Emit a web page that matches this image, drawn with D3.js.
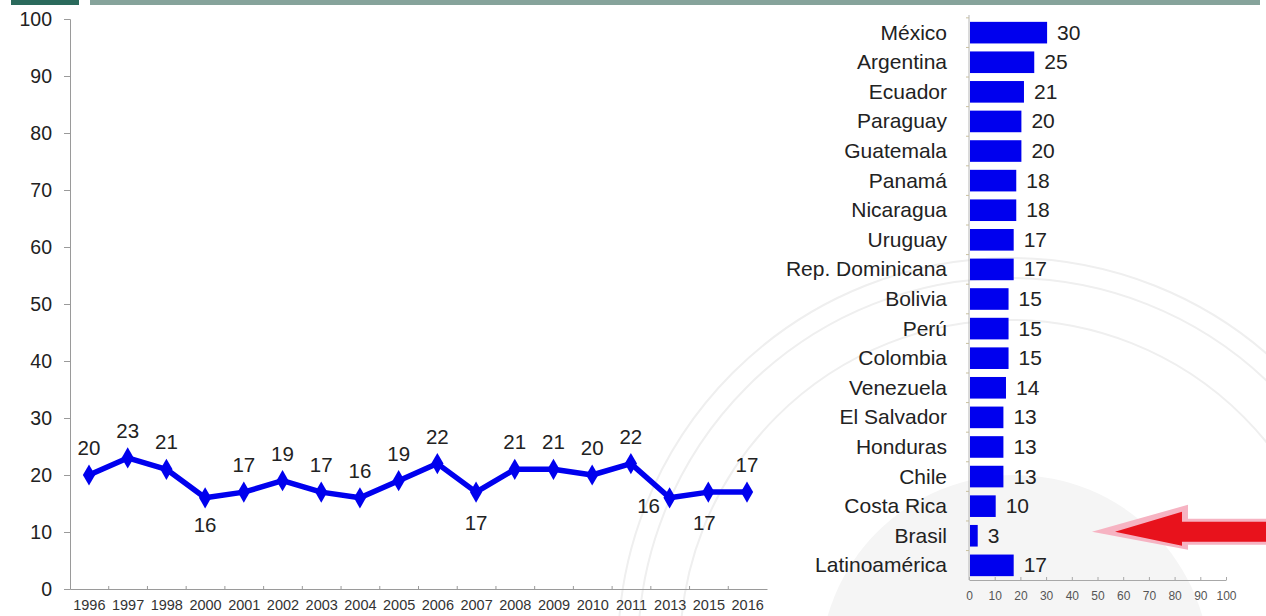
<!DOCTYPE html>
<html>
<head>
<meta charset="utf-8">
<script src="https://cdn.jsdelivr.net/npm/d3@7"></script>
<style>
  html, body { margin: 0; padding: 0; background: #fff; }
  svg { display: block; font-family: "Liberation Sans", Arial, sans-serif; }
</style>
</head>
<body>
<svg id="chart" width="1266" height="616"></svg>
<script>
// ---- data ----
var years = ["1996", "1997", "1998", "2000", "2001", "2002", "2003", "2004", "2005",
  "2006", "2007", "2008", "2009", "2010", "2011", "2013", "2015", "2016"];
var yearValues = [20, 23, 21, 16, 17, 19, 17, 16, 19, 22, 17, 21, 21, 20, 22, 16, 17, 17];
var yTickValues = [0, 10, 20, 30, 40, 50, 60, 70, 80, 90, 100];

var countries = ["México", "Argentina", "Ecuador", "Paraguay", "Guatemala", "Panamá",
  "Nicaragua", "Uruguay", "Rep. Dominicana", "Bolivia", "Perú", "Colombia", "Venezuela",
  "El Salvador", "Honduras", "Chile", "Costa Rica", "Brasil", "Latinoamérica"];
var countryValues = [30, 25, 21, 20, 20, 18, 18, 17, 17, 15, 15, 15, 14, 13, 13, 13, 10, 3, 17];
var barTickValues = [0, 10, 20, 30, 40, 50, 60, 70, 80, 90, 100];

var svg = d3.select("#chart");
var textColor = "#222";
var blue = "#0000ee";

// faint seal watermark in the background
var seal = svg.append("g").attr("fill", "none");
seal.append("circle").attr("cx", 1015).attr("cy", 670).attr("r", 195)
  .attr("fill", "#f5f5f5").attr("stroke", "none");
[392, 372, 330].forEach(function(r) {
  seal.append("circle").attr("cx", 1010).attr("cy", 650).attr("r", r)
    .attr("stroke", "#efefef").attr("stroke-width", 2);
});

// header strip
svg.append("rect").attr("x", 11).attr("y", 0).attr("width", 68).attr("height", 5).attr("fill", "#2b6a5c");
svg.append("rect").attr("x", 90).attr("y", 0).attr("width", 1170).attr("height", 5).attr("fill", "#86a39b");

// ---- left: line chart ----
var x = d3.scalePoint().domain(years).range([89, 747]);
var xBand = d3.scaleBand().domain(years).range([70, 767]);
var y = d3.scaleLinear().domain([0, 100]).range([589, 19]);

var yAxis = svg.append("g").attr("transform", "translate(70,0)")
  .call(d3.axisLeft(y).tickValues(yTickValues).tickSize(6).tickPadding(12));
yAxis.select(".domain").attr("stroke", "#9a9a9a");
yAxis.selectAll(".tick line").attr("stroke", "#9a9a9a");
yAxis.selectAll(".tick text").attr("fill", textColor).attr("font-size", 19.5)
  .attr("font-family", "Liberation Sans, Arial, sans-serif");

var xAxis = svg.append("g").attr("transform", "translate(0,589)")
  .call(d3.axisBottom(xBand).tickSize(0).tickPadding(11).tickSizeOuter(0));
xAxis.select(".domain").attr("stroke", "#9a9a9a");
xAxis.selectAll(".tick text").attr("fill", "#333").attr("font-size", 14.5)
  .attr("font-family", "Liberation Sans, Arial, sans-serif");
xAxis.selectAll(".sep").data(years.slice(1)).enter().append("line")
  .attr("x1", function(d) { return xBand(d); }).attr("x2", function(d) { return xBand(d); })
  .attr("y1", 0).attr("y2", -3).attr("stroke", "#9a9a9a");

var linePts = years.map(function(d, i) { return [x(d), y(yearValues[i])]; });
svg.append("path").datum(linePts)
  .attr("d", d3.line())
  .attr("fill", "none").attr("stroke", blue).attr("stroke-width", 5.5)
  .attr("stroke-linejoin", "round");

svg.selectAll(".marker").data(linePts).enter().append("path")
  .attr("class", "marker")
  .attr("transform", function(d) { return "translate(" + d[0] + "," + d[1] + ")"; })
  .attr("d", d3.symbol().type(d3.symbolDiamond).size(130))
  .attr("fill", blue);

// labels sit above the point, except these
var below = { "2000": [0, 34], "2007": [0, 38], "2015": [-4, 38], "2013": [-21, 15] };
svg.selectAll(".val").data(years).enter().append("text")
  .attr("x", function(d) { return x(d) + (below[d] ? below[d][0] : 0); })
  .attr("y", function(d, i) { return y(yearValues[i]) + (below[d] ? below[d][1] : -20); })
  .attr("text-anchor", "middle").attr("font-size", 20.5).attr("fill", textColor)
  .text(function(d, i) { return yearValues[i]; });

// ---- right: bar chart ----
var bx = d3.scaleLinear().domain([0, 100]).range([969, 1226]);
var by = d3.scaleBand().domain(countries).range([18, 580]).paddingInner(0.27).paddingOuter(0.13);

var bxAxis = svg.append("g").attr("transform", "translate(0,580)")
  .call(d3.axisBottom(bx).tickValues(barTickValues).tickSize(3).tickPadding(8).tickSizeOuter(0));
bxAxis.select(".domain").attr("stroke", "#a8a8a8");
bxAxis.selectAll(".tick line").attr("stroke", "#a8a8a8").attr("y2", -3);
bxAxis.selectAll(".tick text").attr("fill", "#555").attr("font-size", 12)
  .attr("font-family", "Liberation Sans, Arial, sans-serif");

var byAxis = svg.append("g").attr("transform", "translate(969,0)");
byAxis.append("line").attr("x1", 0).attr("x2", 0).attr("y1", 15).attr("y2", 580).attr("stroke", "#b5b5b5");
byAxis.selectAll(".sep").data(countries).enter().append("line")
  .attr("x1", -3).attr("x2", 0)
  .attr("y1", function(d) { return by(d) - by.step() * by.paddingInner() / 2; })
  .attr("y2", function(d) { return by(d) - by.step() * by.paddingInner() / 2; })
  .attr("stroke", "#c8c0a0");

svg.selectAll(".bar").data(countries).enter().append("rect")
  .attr("x", bx(0) + 1)
  .attr("y", function(d) { return by(d); })
  .attr("width", function(d, i) { return bx(countryValues[i]) - bx(0); })
  .attr("height", by.bandwidth())
  .attr("fill", blue);

svg.selectAll(".cname").data(countries).enter().append("text")
  .attr("x", 947)
  .attr("y", function(d) { return by(d) + by.bandwidth() / 2 + 7; })
  .attr("text-anchor", "end").attr("font-size", 21).attr("fill", textColor)
  .text(function(d) { return d; });

svg.selectAll(".cval").data(countries).enter().append("text")
  .attr("x", function(d, i) { return bx(countryValues[i]) + 11; })
  .attr("y", function(d) { return by(d) + by.bandwidth() / 2 + 7; })
  .attr("font-size", 21).attr("fill", textColor)
  .text(function(d, i) { return countryValues[i]; });

// red arrow pointing at Brasil
var ay = by("Brasil") + by.bandwidth() / 2 - 4;
var arrow = svg.append("g").attr("transform", "translate(0," + ay + ")");
arrow.append("path")
  .attr("d", "M1092,0 L1188,-27 L1188,-13 L1266,-13 L1266,13 L1188,13 L1188,18 Z")
  .attr("fill", "#f6b3c2");
arrow.append("path")
  .attr("d", "M1115,0 L1182,-20 L1182,-10 L1266,-10 L1266,10 L1182,10 L1182,14 Z")
  .attr("fill", "#e8121c");
</script>
</body>
</html>
